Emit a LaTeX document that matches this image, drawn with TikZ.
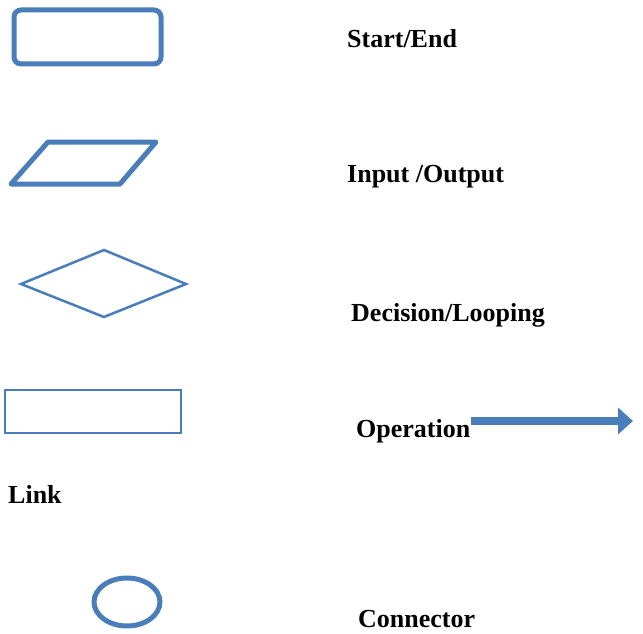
\documentclass[tikz,border=0pt]{standalone}
\usepackage{fontspec}
\setmainfont{Liberation Serif}
\usepackage{xcolor}
\usetikzlibrary{arrows.meta}
\definecolor{symblue}{RGB}{74,126,187}

\begin{document}
\begin{tikzpicture}[x=1pt,y=-1pt,
  thick symbol/.style={draw=symblue,line width=5pt,line join=round},
  thin symbol/.style={draw=symblue,line width=2.5pt},
  label/.style={anchor=base west,inner sep=0pt,font=\fontsize{26}{30}\selectfont\bfseries}]
\useasboundingbox (0,0) rectangle (643,634);
 \draw[thick symbol,rounded corners=7pt] (14,10) rectangle (161,64);
 \draw[thick symbol] (48,142) -- (156,142) -- (120,184) -- (11,184) -- cycle;
 \draw[thin symbol] (21,284) -- (104,250) -- (186,284) -- (104,317) -- cycle;
 \draw[thin symbol] (5,390) rectangle (181,433);
 \draw[thick symbol] (127,602) ellipse (33 and 24);
 
 \node[label] (startend) at (347,48) {Start/End};
 \node[label] (inout) at (347,182) {Input /Output};
 \node[label] (decision) at (351,321) {Decision/Looping};
 \node[label] (operation) at (356,437) {Operation};
 \node[label] (link) at (8,503) {Link};
 \node[label] (connector) at (358,627) {Connector};
%  arrow after the operation label
\coordinate (tip) at (633,421);
\draw[symblue,line width=8pt,-{Triangle[length=15pt,width=26pt]}] (operation.east |- tip) -- (tip);
\end{tikzpicture}
\end{document}
